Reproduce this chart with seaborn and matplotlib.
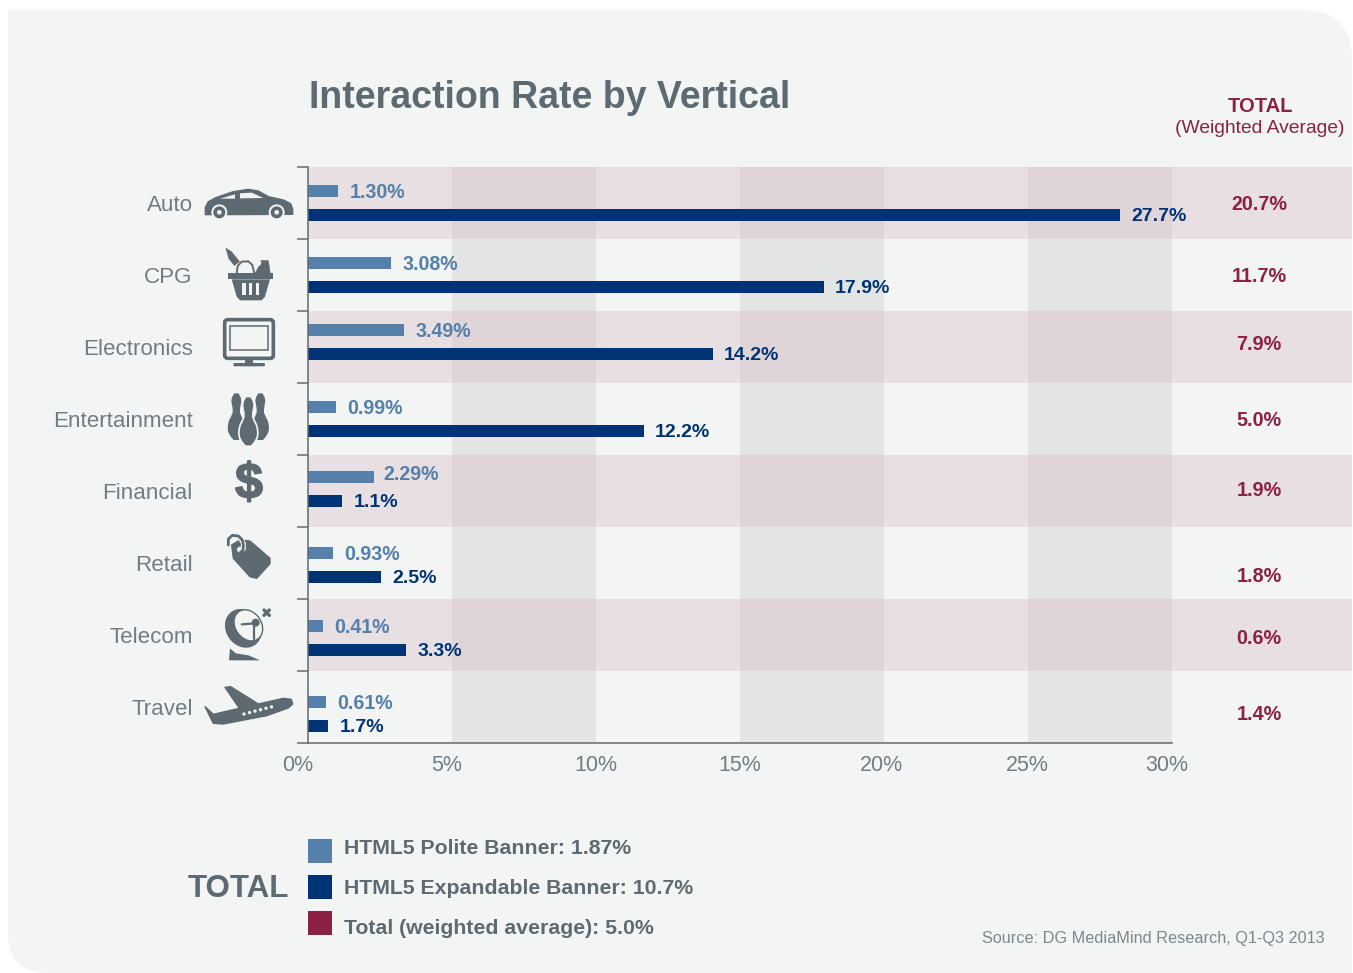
import numpy as np
import pandas as pd
import seaborn as sns
import matplotlib.pyplot as plt
import matplotlib.patheffects as pe
from matplotlib.patches import Polygon, Circle, Ellipse, Rectangle, FancyBboxPatch, PathPatch
from matplotlib.path import Path
from matplotlib.transforms import ScaledTranslation

# data
verticals = ['Auto', 'CPG', 'Electronics', 'Entertainment', 'Financial', 'Retail', 'Telecom', 'Travel']
polite_len = [1.04, 2.88, 3.33, 0.97, 2.29, 0.87, 0.52, 0.62]  # drawn lengths, not always equal to the printed labels
expand_len = [28.2, 17.9, 14.05, 11.65, 1.18, 2.53, 3.4, 0.69]
polite_txt = ['1.30%', '3.08%', '3.49%', '0.99%', '2.29%', '0.93%', '0.41%', '0.61%']
expand_txt = ['27.7%', '17.9%', '14.2%', '12.2%', '1.1%', '2.5%', '3.3%', '1.7%']
total_txt = ['20.7%', '11.7%', '7.9%', '5.0%', '1.9%', '1.8%', '0.6%', '1.4%']
x_ticks = [0, 5, 10, 15, 20, 25, 30]
x_labels = ['0%', '5%', '10%', '15%', '20%', '25%', '30%']
legend_txt = ['HTML5 Polite Banner: 1.87%', 'HTML5 Expandable Banner: 10.7%', 'Total (weighted average): 5.0%']

# layout tweaks, in pixels
bar_nudge = [0, 0, -5, 0, -2, 2, 3, 7]
total_nudge = [1, 1, -3, 1, 0, 13, 4, 8]
x_label_shift = [-10, -5, 0, 0, -3, -1, -5]

W, H = 1353, 973
CARD = '#F3F5F4'
POLITE = '#5580AB'
EXPAND = '#003375'
WINE = '#8B2144'
SLATE = '#5E6A72'
LIGHT = '#717D85'

sns.set_theme(style='white')
plt.rcParams['font.family'] = ['Liberation Sans', 'DejaVu Sans']

fig = plt.figure(figsize=(W / 100, H / 100), dpi=100, facecolor='white')

# pixel canvas behind the chart
bg = fig.add_axes([0, 0, 1, 1], zorder=0)
bg.set_xlim(0, W)
bg.set_ylim(H, 0)
bg.axis('off')
card = Path([(8, 10), (1302, 10), (1352, 10), (1352, 60), (1352, 973), (48, 973), (8, 973), (8, 933), (8, 10)],
            [Path.MOVETO, Path.LINETO, Path.CURVE3, Path.CURVE3, Path.LINETO, Path.LINETO, Path.CURVE3, Path.CURVE3, Path.CLOSEPOLY])
bg.add_patch(PathPatch(card, fc=CARD, ec='none'))

# chart
ax = fig.add_axes([308 / W, 1 - 743 / H, 864 / W, 576 / H], zorder=1)
ax.patch.set_alpha(0)
df = pd.DataFrame({
    'vertical': verticals * 2,
    'banner': ['polite'] * 8 + ['expandable'] * 8,
    'length': polite_len + expand_len,
})
sns.barplot(data=df, y='vertical', x='length', hue='banner', order=verticals, hue_order=['polite', 'expandable'],
            palette=[POLITE, EXPAND], saturation=1, width=48 / 72, gap=0.5, legend=False, ax=ax, errorbar=None,
            linewidth=0)
ax.set_xlim(0, 30)
ax.set_ylim(7.5, -0.5)

for cont in ax.containers:
    for bar, nudge in zip(cont, bar_nudge):
        bar.set_y(bar.get_y() + nudge / 72)
p_labels = ax.bar_label(ax.containers[0], labels=polite_txt, padding=8.2, color=POLITE, fontsize=14.1, fontweight='bold')
e_labels = ax.bar_label(ax.containers[1], labels=expand_txt, padding=8.2, color=EXPAND, fontsize=14, fontweight='bold')
for lab in list(p_labels) + list(e_labels):
    lab.xyann = (lab.xyann[0], lab.xyann[1] - 1.2)
p_labels[4].xyann = (6.5, 1.8)

# bands
for left in [5, 15, 25]:
    ax.axvspan(left, left + 5, color='#E3E5E4', lw=0, zorder=0.4)
for i in range(0, 8, 2):
    ax.axhspan(i - 0.5, i + 0.5, xmin=0, xmax=(1352 - 308) / 864, color=WINE, alpha=0.1, lw=0, zorder=0.5, clip_on=False)
    for left in [5, 15, 25]:
        ax.add_patch(Rectangle((left, i - 0.5), 5, 1, fc='#DFD5D9', ec='none', zorder=0.6))

# axes
for side in ['top', 'right']:
    ax.spines[side].set_visible(False)
for side in ['left', 'bottom']:
    ax.spines[side].set_color(SLATE)
    ax.spines[side].set_linewidth(1.1)
ax.set_xlabel('')
ax.set_ylabel('')
ax.set_xticks(x_ticks, x_labels)
ax.tick_params(axis='x', length=0, pad=8.5, labelsize=15.5, labelcolor=LIGHT)
ax.set_yticks(range(8), verticals)
ax.set_yticks(np.arange(-0.5, 8), minor=True)
ax.tick_params(axis='y', which='major', length=0, pad=83, labelsize=16.1, labelcolor=LIGHT)
ax.tick_params(axis='y', which='minor', left=True, length=8, width=1.1, color=SLATE)
for lab, dx in zip(ax.get_xticklabels(), x_label_shift):
    lab.set_transform(lab.get_transform() + ScaledTranslation(dx / 100, 0, fig.dpi_scale_trans))
ax.set_title('Interaction Rate by Vertical', loc='left', pad=42.5, fontsize=27, fontweight='bold', color=SLATE, x=0.001)

# total column
trans = ax.get_yaxis_transform()
for i, (txt, nudge) in enumerate(zip(total_txt, total_nudge)):
    ax.text((1259 - 308) / 864, i + nudge / 72, txt, transform=trans, ha='center', va='center',
            color=WINE, fontsize=14.2, fontweight='bold', clip_on=False)
bg.text(1260, 106.5, 'TOTAL', ha='center', va='center', color=WINE, fontsize=14.5, fontweight='bold')
bg.text(1260, 128.5, '(Weighted Average)', ha='center', va='center', color=WINE, fontsize=13.9)

# legend block
for y0, col, txt, ty in zip([839, 875, 911], [POLITE, EXPAND, WINE], legend_txt, [849, 889, 929]):
    bg.add_patch(Rectangle((308, y0), 24, 24, fc=col, ec='none'))
    bg.text(344, ty, txt, va='center', ha='left', color=SLATE, fontsize=15.3, fontweight='bold')
bg.text(188, 889, 'TOTAL', va='center', ha='left', color=SLATE, fontsize=22.5, fontweight='bold')
bg.text(1325, 939, 'Source: DG MediaMind Research, Q1-Q3 2013', va='center', ha='right', color='#7C878E', fontsize=11.7)


# icons, sketched in the 3x zoom coordinates (ox is the left edge of the crop)
def pts(p, oy, ox=0):
    return [(ox + x / 3, oy + y / 3) for x, y in p]


def poly(p, oy, col=SLATE, lw=0, ox=0):
    bg.add_patch(Polygon(pts(p, oy, ox), closed=True, fc=col, ec=col, lw=lw, joinstyle='round'))


def line(p, oy, col=SLATE, lw=2.0, ox=0):
    xy = pts(p, oy, ox)
    bg.plot([a for a, b in xy], [b for a, b in xy], color=col, lw=lw, solid_capstyle='round', solid_joinstyle='round')


def dot(x, y, oy, r, col=SLATE, ox=0):
    bg.add_patch(Circle((ox + x / 3, oy + y / 3), r / 3, fc=col, ec='none'))


# car
poly([(616, 164), (616, 142), (625, 125), (650, 112), (700, 95), (745, 88), (775, 93), (805, 110), (850, 120),
      (872, 131), (878, 148), (878, 163)], 160, lw=1)
poly([(660, 116), (705, 103), (705, 116)], 160, CARD)
poly([(720, 100), (755, 98), (790, 114), (720, 115)], 160, CARD)
for cx in [658, 830]:
    dot(cx, 157, 160, 24, CARD)
    dot(cx, 157, 160, 18)
    dot(cx, 157, 160, 7, CARD)

# basket
line([(65, 100), (68, 78), (80, 65), (100, 64), (112, 75), (118, 100)], 240, lw=1.4, ox=215)
poly([(33, 25), (50, 36), (73, 65), (58, 76), (42, 56)], 240, lw=0.5, ox=215)
poly([(120, 102), (130, 82), (140, 72), (138, 62), (160, 62), (166, 102)], 240, lw=0.5, ox=215)
poly([(38, 100), (175, 100), (175, 118), (38, 118)], 240, ox=215)
poly([(50, 118), (165, 118), (150, 170), (140, 181), (75, 181), (65, 170)], 240, ox=215)
for sx in [82, 102, 122]:
    poly([(sx, 130), (sx + 10, 130), (sx + 10, 166), (sx, 166)], 240, CARD, ox=215)

# screen
bg.add_patch(FancyBboxPatch((674 / 3, 160 + 479 / 3), 146 / 3, 116 / 3, boxstyle='round,pad=0,rounding_size=3',
                            fc=CARD, ec=SLATE, lw=2.6))
bg.add_patch(Rectangle((691 / 3, 160 + 497 / 3), 112 / 3, 72 / 3, fc=CARD, ec=SLATE, lw=1.1))
poly([(735, 598), (760, 598), (760, 610), (735, 610)], 160)
bg.add_patch(FancyBboxPatch((700 / 3, 160 + 609 / 3), 95 / 3, 10 / 3, boxstyle='round,pad=0,rounding_size=1.5',
                            fc=SLATE, ec='none'))


# pins
def pin(cx, top, bottom, halo=False):
    hw = [6, 13, 15, 13, 11, 11, 16, 22, 25, 26, 24, 18, 8]
    fr = np.linspace(0, 1, len(hw))
    ys = [top + f * (bottom - top) for f in fr]
    p = [(cx - w, y) for w, y in zip(hw, ys)] + [(cx + w, y) for w, y in zip(hw[::-1], ys[::-1])]
    if halo:
        poly(p, 385, CARD, lw=2.5, ox=215)
    poly(p, 385, ox=215)


pin(64, 25, 165)
pin(136, 25, 165)
pin(100, 37, 181, halo=True)

# dollar
bg.text(249, 485, '$', ha='center', va='center', color=SLATE, fontsize=36, fontweight='bold',
        path_effects=[pe.withStroke(linewidth=1.2, foreground=SLATE)])

# tag
poly([(50, 60), (75, 45), (105, 48), (165, 100), (165, 116), (125, 160), (105, 155), (55, 100)], 525, lw=1, ox=215)
line([(78, 42), (85, 55), (85, 72)], 525, CARD, lw=3.6, ox=215)
dot(75, 74, 525, 9, CARD, ox=215)
line([(40, 60), (40, 42), (52, 31), (70, 33), (82, 45), (85, 60), (84, 76), (76, 82)], 525, lw=2.0, ox=215)

# dish
bg.add_patch(Ellipse((215 + 85 / 3, 600 + 85 / 3), 104 / 3, 122 / 3, angle=-35, fc=SLATE, ec='none'))
bg.add_patch(Ellipse((215 + 100 / 3, 600 + 76 / 3), 78 / 3, 100 / 3, angle=-35, fc=CARD, ec=SLATE, lw=1.0))
line([(80, 73), (120, 70)], 600, lw=1.6, ox=215)
line([(118, 72), (118, 118)], 600, lw=1.6, ox=215)
dot(122, 68, 600, 12, ox=215)
poly([(42, 181), (45, 145), (62, 160), (100, 166), (135, 181)], 600, ox=215)
line([(147, 30), (163, 46)], 600, lw=2.4, ox=215)
line([(163, 30), (147, 46)], 600, lw=2.4, ox=215)

# plane
poly([(615, 770), (640, 793), (770, 763), (850, 745), (874, 748), (878, 762), (865, 774), (800, 797), (670, 822), (640, 820)],
     450, lw=1)
poly([(675, 712), (692, 710), (780, 765), (725, 785)], 450, lw=1)
for k in range(6):
    dot(732 + k * 16.5, 792 - k * 4.3, 450, 5, CARD)

fig.savefig('out.png', dpi=100, facecolor='white')
